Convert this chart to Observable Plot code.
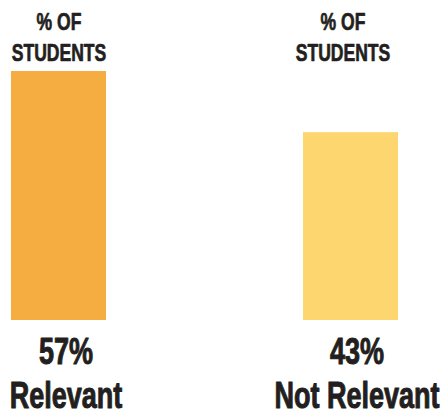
<!DOCTYPE html>
<html><head><meta charset="utf-8">
<script src="https://cdn.jsdelivr.net/npm/d3@7"></script>
<script src="https://cdn.jsdelivr.net/npm/@observablehq/plot@0.6"></script>
<style>body{margin:0;background:#fff} svg{display:block}</style>
</head><body><div id="chart"></div>
<script>
const categories = ["Relevant", "Not Relevant"];
const values = [57, 43];
const colors = ["#F5AD41", "#FED66F"];
const headerLines = ["% OF", "STUDENTS"];

const data = categories.map((c, i) => ({category: c, value: values[i], color: colors[i]}));
const font = "Liberation Sans, Arial, sans-serif";
const ink = "#231F20";
const headerDx = [0, -8];
const footerDx = [7, 6];

const marks = [Plot.barY(data, {x: "category", y: "value", fill: "color"})];
data.forEach((d, i) => {
  headerLines.forEach((line, j) => {
    marks.push(Plot.text([d], {x: "category", text: () => line, frameAnchor: "top", lineAnchor: "bottom",
      dy: j === 0 ? -42 : -11, dx: headerDx[i], fontSize: 24, fontWeight: "bold", fill: ink,
      stroke: ink, strokeWidth: 0.7, fontFamily: font}));
  });
  marks.push(Plot.text([d], {x: "category", text: r => r.value + "%", frameAnchor: "bottom", lineAnchor: "top",
    dy: 17, dx: footerDx[i], fontSize: 37, fontWeight: "bold", fill: ink, stroke: ink, strokeWidth: 1, fontFamily: font}));
  marks.push(Plot.text([d], {x: "category", text: "category", frameAnchor: "bottom", lineAnchor: "top",
    dy: 61, dx: footerDx[i], fontSize: 37, fontWeight: "bold", fill: ink, stroke: ink, strokeWidth: 1, fontFamily: font}));
});

const chart = Plot.plot({
  width: 443, height: 410,
  marginTop: 71, marginBottom: 90, marginLeft: 0, marginRight: 0,
  x: {domain: categories, range: [11, 398], paddingInner: 0.675, paddingOuter: 0, axis: null},
  y: {axis: null},
  color: {type: "identity"},
  style: {background: "#fff", overflow: "visible"},
  marks
});
document.getElementById("chart").append(chart);
d3.select(chart).selectAll("text").each(function() {
  const len = this.getComputedTextLength();
  if (len > 0) {
    this.setAttribute("textLength", len * 0.73);
    this.setAttribute("lengthAdjust", "spacingAndGlyphs");
  }
});
</script>
</body></html>
